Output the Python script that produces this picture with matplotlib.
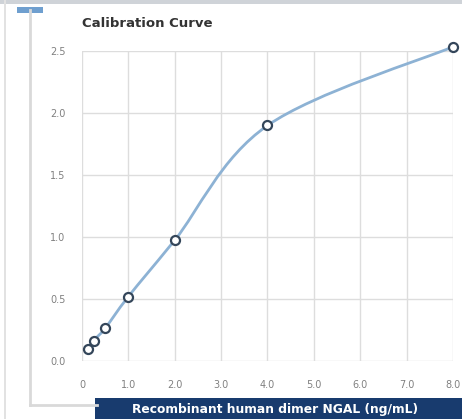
import matplotlib
matplotlib.use("Agg")
import matplotlib.pyplot as plt
from matplotlib.path import Path
from matplotlib.patches import PathPatch, Rectangle
from matplotlib.lines import Line2D

# calibration points
conc = [0.125, 0.25, 0.5, 1.0, 2.0, 4.0, 8.0]
od = [0.10, 0.165, 0.265, 0.52, 0.975, 1.90, 2.535]
xticks = [0, 1, 2, 3, 4, 5, 6, 7, 8]
xticklabels = ["0", "1.0", "2.0", "3.0", "4.0", "5.0", "6.0", "7.0", "8.0"]
yticks = [0.0, 0.5, 1.0, 1.5, 2.0, 2.5]
yticklabels = ["0.0", "0.5", "1.0", "1.5", "2.0", "2.5"]


def smooth_path(xs, ys, t=0.17):
    # catmull-rom style bezier through the points
    verts = [(xs[0], ys[0])]
    codes = [Path.MOVETO]
    n = len(xs)
    for i in range(n - 1):
        x0, y0 = (xs[i - 1], ys[i - 1]) if i > 0 else (xs[i], ys[i])
        x1, y1 = xs[i], ys[i]
        x2, y2 = xs[i + 1], ys[i + 1]
        x3, y3 = (xs[i + 2], ys[i + 2]) if i + 2 < n else (xs[i + 1], ys[i + 1])
        c1 = (x1 + (x2 - x0) * t, y1 + (y2 - y0) * t)
        c2 = (x2 - (x3 - x1) * t, y2 - (y3 - y1) * t)
        verts += [c1, c2, (x2, y2)]
        codes += [Path.CURVE4] * 3
    return Path(verts, codes)


fig = plt.figure(figsize=(4.62, 4.19), dpi=100)
fig.patch.set_facecolor("white")

# page frame decorations
grey = "#d9d9d9"
fig.add_artist(Rectangle((0, 0.99), 1, 0.01, transform=fig.transFigure, color="#cfd3d8", lw=0))
fig.add_artist(Rectangle((0.008, 0), 0.006, 1, transform=fig.transFigure, color="#e2e2e2", lw=0))
fig.add_artist(Line2D([0.066, 0.066], [0.033, 0.975], transform=fig.transFigure, color=grey, lw=2))
fig.add_artist(Line2D([0.066, 0.21], [0.033, 0.033], transform=fig.transFigure, color=grey, lw=2))
fig.add_artist(Rectangle((0.037, 0.969), 0.057, 0.014, transform=fig.transFigure, color="#6f9fcf", lw=0))

ax = fig.add_axes([0.1775, 0.1384, 0.803, 0.7396])
ax.set_xlim(0, 8)
ax.set_ylim(0, 2.5)
for s in ax.spines.values():
    s.set_visible(False)
ax.set_xticks(xticks)
ax.set_xticklabels(xticklabels)
ax.set_yticks(yticks)
ax.set_yticklabels(yticklabels)
ax.tick_params(length=0, labelsize=7, labelcolor="#808080", pad=12)
ax.tick_params(axis="x", pad=14)
ax.grid(True, color="#dddddd", lw=1)
ax.set_axisbelow(True)

ax.add_patch(PathPatch(smooth_path(conc, od), fill=False, edgecolor="#8db2d4",
                       lw=2.0, clip_on=False, zorder=3))
ax.plot(conc, od, "o", ms=6.5, mfc="white", mec="#34465a", mew=1.6,
        clip_on=False, zorder=4)

fig.text(0.1775, 0.945, "Calibration Curve", fontsize=9.5, fontweight="bold",
         color="#333333", va="center")

fig.add_artist(Rectangle((0.205, 0), 0.8, 0.05, transform=fig.transFigure,
                         color="#183b6e", lw=0))
fig.text(0.595, 0.022, "Recombinant human dimer NGAL (ng/mL)", fontsize=8.8,
         fontweight="bold", color="white", ha="center", va="center")

fig.savefig("out.png", dpi=100)
